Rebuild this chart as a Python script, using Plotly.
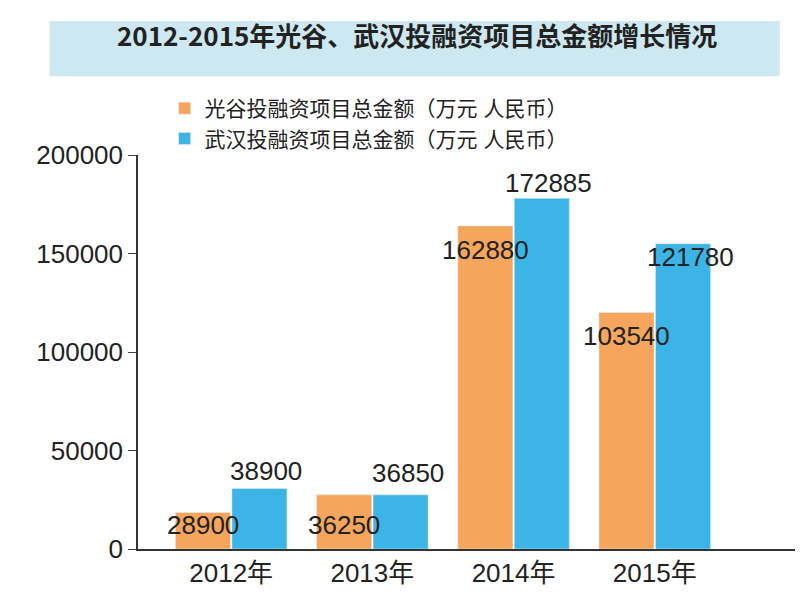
import plotly.graph_objects as go

years = ["2012年", "2013年", "2014年", "2015年"]
guanggu_heights = [18500, 27500, 164000, 120000]
wuhan_heights = [30700, 27500, 178000, 155000]
guanggu_labels = ["28900", "36250", "162880", "103540"]
wuhan_labels = ["38900", "36850", "172885", "121780"]
label_y_g = [12000, 12000, 152000, 108000]
label_y_w = [39500, 38500, 186000, 148000]
yticks = [0, 50000, 100000, 150000, 200000]

FONT = "Liberation Sans, Noto Sans CJK SC, sans-serif"
xs = list(range(len(years)))
fig = go.Figure()
fig.add_bar(x=[x - 0.2 for x in xs], y=guanggu_heights, width=0.39,
            name="光谷投融资项目总金额（万元 人民币）", marker_color="#F5A55C")
fig.add_bar(x=[x + 0.2 for x in xs], y=wuhan_heights, width=0.39,
            name="武汉投融资项目总金额（万元 人民币）", marker_color="#3CB5E6")

for i in xs:
    fig.add_annotation(x=i - 0.2, y=label_y_g[i], text=guanggu_labels[i], showarrow=False,
                       font=dict(size=26, color="#222"))
    fig.add_annotation(x=i + 0.25, y=label_y_w[i], text=wuhan_labels[i], showarrow=False,
                       font=dict(size=26, color="#222"))

fig.add_shape(type="rect", xref="paper", yref="paper", x0=-0.133, x1=0.965,
              y0=1.2, y1=1.34, fillcolor="#CDE8F0", line_width=0, layer="below")
fig.add_annotation(xref="paper", yref="paper", x=0.42, y=1.305, yanchor="middle", showarrow=False,
                   text="<b>2012-2015年光谷、武汉投融资项目总金额增长情况</b>",
                   font=dict(size=26, color="#222", family="Noto Sans CJK SC, sans-serif"))

fig.update_layout(
    width=803, height=610, margin=dict(l=130, r=8, t=147, b=69),
    paper_bgcolor="white", plot_bgcolor="white", font=dict(family=FONT, color="#222"),
    showlegend=True,
    legend=dict(x=0.04, y=1.17, xanchor="left", yanchor="top", font=dict(size=21),
                bgcolor="rgba(0,0,0,0)", itemwidth=30, tracegroupgap=0),
    xaxis=dict(range=[-0.66, 4.05], tickvals=xs, ticktext=years, showgrid=False,
               showline=True, linecolor="#333", linewidth=1.5, tickfont=dict(size=26),
               ticks="", zeroline=False),
    yaxis=dict(range=[0, 200000], tickvals=yticks, ticktext=[str(v) for v in yticks],
               showgrid=False, showline=True, linecolor="#333", linewidth=1.5,
               ticks="outside", ticklen=8, tickfont=dict(size=26), zeroline=False),
)
fig.write_html("out.html")
